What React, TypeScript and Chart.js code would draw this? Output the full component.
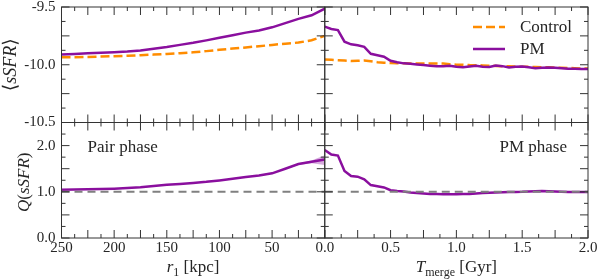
import React, { useEffect, useRef } from 'react';
import { Chart, registerables } from 'chart.js';
Chart.register(...registerables);

// ---------- data ----------
const rPair = [250, 237.5, 225, 212.5, 200, 187.5, 175, 162.5, 150, 137.5, 125, 112.5, 100, 87.5, 75, 62.5, 50, 37.5, 25, 12.5, 0];
const pmSsfrPair = [-9.911, -9.906, -9.901, -9.896, -9.891, -9.885, -9.876, -9.861, -9.846, -9.828, -9.81, -9.789, -9.767, -9.745, -9.722, -9.703, -9.676, -9.64, -9.603, -9.572, -9.515];
const ctrlSsfrPair = [-9.935, -9.934, -9.932, -9.929, -9.926, -9.922, -9.917, -9.912, -9.906, -9.9, -9.892, -9.882, -9.87, -9.86, -9.85, -9.84, -9.828, -9.818, -9.808, -9.788, -9.75];
const qPair = [1.047, 1.05, 1.055, 1.06, 1.068, 1.082, 1.1, 1.125, 1.15, 1.17, 1.19, 1.215, 1.247, 1.283, 1.32, 1.355, 1.4, 1.5, 1.6, 1.65, 1.7];
const bandR = [37.5, 25, 12.5, 0];
const qPairLow = [1.49, 1.58, 1.62, 1.58];
const qPairHigh = [1.51, 1.62, 1.68, 1.79];

const tMerge = [0, 0.05, 0.1, 0.15, 0.2, 0.25, 0.3, 0.35, 0.4, 0.45, 0.5, 0.55, 0.6, 0.65, 0.7, 0.75, 0.8, 0.85, 0.9, 0.95, 1.0, 1.05, 1.1, 1.15, 1.2, 1.25, 1.3, 1.35, 1.4, 1.45, 1.5, 1.55, 1.6, 1.65, 1.7, 1.75, 1.8, 1.85, 1.9, 1.95, 2.0];
const pmSsfrPost = [-9.67, -9.69, -9.7, -9.8, -9.823, -9.832, -9.845, -9.905, -9.918, -9.93, -9.965, -9.978, -9.988, -9.992, -9.997, -10.003, -10.008, -10.013, -10.012, -10.008, -10.018, -10.022, -10.015, -10.009, -10.018, -10.02, -10.006, -10.012, -10.023, -10.018, -10.015, -10.022, -10.03, -10.026, -10.023, -10.025, -10.03, -10.035, -10.035, -10.036, -10.036];
const ctrlSsfrPost = [-9.955, -9.957, -9.96, -9.964, -9.968, -9.966, -9.963, -9.97, -9.978, -9.982, -9.985, -9.987, -9.988, -9.989, -9.99, -9.99, -9.99, -9.989, -9.99, -9.995, -9.999, -10.0, -10.003, -10.004, -10.006, -10.008, -10.01, -10.012, -10.014, -10.016, -10.017, -10.018, -10.02, -10.021, -10.022, -10.024, -10.026, -10.028, -10.03, -10.032, -10.033];
const qPost = [1.907, 1.806, 1.785, 1.45, 1.34, 1.328, 1.27, 1.145, 1.12, 1.095, 1.035, 1.015, 1.008, 0.985, 0.972, 0.962, 0.955, 0.95, 0.948, 0.946, 0.946, 0.95, 0.955, 0.962, 0.972, 0.978, 0.984, 0.99, 0.994, 0.997, 1.0, 1.008, 1.014, 1.018, 1.012, 1.005, 1.0, 0.998, 0.996, 0.996, 0.996];

const qRef = 1;
const seriesNames = ['Control', 'PM'];
const rTickLabels = [250, 200, 150, 100, 50];
const tTickLabels = [0, 0.5, 1.0, 1.5, 2.0];
const ssfrTickLabels = [-9.5, -10.0, -10.5];
const qTickLabels = [0, 1.0, 2.0];
const rMajor = [250, 225, 200, 175, 150, 125, 100, 75, 50, 25, 0];
const tMajor = [0, 0.25, 0.5, 0.75, 1.0, 1.25, 1.5, 1.75, 2.0];
const ssfrMajor = [-9.5, -9.75, -10.0, -10.25, -10.5];
const qMajor = [0, 0.5, 1.0, 1.5, 2.0, 2.5];

const PURPLE = '#8a0f9e';
const ORANGE = '#ff8c00';
const GREY = '#808080';
const INK = '#262626';
const SERIF = "'Liberation Serif', 'DejaVu Serif', serif";

const pts = (xs: number[], ys: number[]) => xs.map((x, i) => ({ x, y: ys[i] }));

type Piece = { t: string; font: string; dy?: number };
function drawRich(ctx: CanvasRenderingContext2D, pieces: Piece[], cx: number, cy: number, rot: number) {
  ctx.save();
  ctx.translate(cx, cy);
  ctx.rotate(rot);
  ctx.textAlign = 'left';
  ctx.textBaseline = 'alphabetic';
  ctx.fillStyle = INK;
  let total = 0;
  const w = pieces.map((p) => {
    ctx.font = p.font;
    const m = ctx.measureText(p.t).width;
    total += m;
    return m;
  });
  let x = -total / 2;
  pieces.forEach((p, i) => {
    ctx.font = p.font;
    ctx.fillText(p.t, x, p.dy || 0);
    x += w[i];
  });
  ctx.restore();
}

const it = (s: number) => `italic ${s}px ${SERIF}`;
const rm = (s: number) => `${s}px ${SERIF}`;

const framePlugin = {
  id: 'framePlugin',
  afterDraw(chart: any) {
    const ctx: CanvasRenderingContext2D = chart.ctx;
    const s = chart.scales;
    const panels = [
      [s.xL, s.yT, rMajor, ssfrMajor],
      [s.xR, s.yT, tMajor, ssfrMajor],
      [s.xL, s.yB, rMajor, qMajor],
      [s.xR, s.yB, tMajor, qMajor],
    ];
    ctx.save();
    ctx.strokeStyle = '#333';
    ctx.lineWidth = 1;
    for (const [xs, ys, xm, ym] of panels as any) {
      const L = xs.left, R = xs.right, T = ys.top, B = ys.bottom;
      ctx.strokeRect(L, T, R - L, B - T);
      ctx.beginPath();
      xm.forEach((v: number, i: number) => {
        const list = [{ v, len: 8 }];
        if (i < xm.length - 1) list.push({ v: (v + xm[i + 1]) / 2, len: 4 });
        for (const tk of list) {
          const px = xs.getPixelForValue(tk.v);
          ctx.moveTo(px, B); ctx.lineTo(px, B - tk.len);
          ctx.moveTo(px, T); ctx.lineTo(px, T + tk.len);
        }
      });
      ym.forEach((v: number, i: number) => {
        const list = [{ v, len: 8 }];
        if (i < ym.length - 1) list.push({ v: (v + ym[i + 1]) / 2, len: 4 });
        for (const tk of list) {
          const py = ys.getPixelForValue(tk.v);
          ctx.moveTo(L, py); ctx.lineTo(L + tk.len, py);
          ctx.moveTo(R, py); ctx.lineTo(R - tk.len, py);
        }
      });
      ctx.stroke();
    }
    ctx.restore();

    // axis titles
    drawRich(ctx, [{ t: '⟨', font: rm(19) }, { t: 'sSFR', font: it(18) }, { t: '⟩', font: rm(19) }], 16, (s.yT.top + s.yT.bottom) / 2, -Math.PI / 2);
    drawRich(ctx, [{ t: 'Q', font: it(17) }, { t: '(', font: rm(17) }, { t: 'sSFR', font: it(17) }, { t: ')', font: rm(17) }], 29, (s.yB.top + s.yB.bottom) / 2 + 2, -Math.PI / 2);
    drawRich(ctx, [{ t: 'r', font: it(17) }, { t: '1', font: rm(12), dy: 4 }, { t: ' [kpc]', font: rm(17) }], (s.xL.left + s.xL.right) / 2, 272, 0);
    drawRich(ctx, [{ t: 'T', font: it(17) }, { t: 'merge', font: rm(12), dy: 4 }, { t: ' [Gyr]', font: rm(17) }], (s.xR.left + s.xR.right) / 2, 272, 0);

    // annotations
    ctx.save();
    ctx.fillStyle = INK;
    ctx.font = rm(17);
    ctx.textBaseline = 'middle';
    ctx.textAlign = 'left';
    ctx.fillText('Pair phase', s.xL.left + 26, s.yB.top + 25);
    ctx.textAlign = 'right';
    ctx.fillText('PM phase', s.xR.right - 21, s.yB.top + 25);

    // legend
    const lx0 = s.xR.right - 115, lx1 = s.xR.right - 83, tx = s.xR.right - 68;
    const rows = [
      { name: seriesNames[0], color: ORANGE, dash: [9, 4], y: s.yT.top + 20 },
      { name: seriesNames[1], color: PURPLE, dash: [], y: s.yT.top + 42 },
    ];
    for (const r of rows) {
      ctx.beginPath();
      ctx.strokeStyle = r.color;
      ctx.lineWidth = 2.5;
      ctx.setLineDash(r.dash);
      ctx.moveTo(lx0, r.y);
      ctx.lineTo(lx1, r.y);
      ctx.stroke();
      ctx.setLineDash([]);
      ctx.textAlign = 'left';
      ctx.fillText(r.name, tx, r.y + 1);
    }
    ctx.restore();
  },
};

const zeroPad = (sc: any) => { sc.paddingTop = 0; sc.paddingBottom = 0; sc.paddingLeft = 0; sc.paddingRight = 0; };

export default function App() {
  const ref = useRef<HTMLCanvasElement>(null);
  useEffect(() => {
    const line = (data: any[], xID: string, yID: string, color: string, extra: any = {}) => ({
      data, xAxisID: xID, yAxisID: yID, borderColor: color, backgroundColor: color,
      borderWidth: 2.5, pointRadius: 0, tension: 0, fill: false, ...extra,
    });
    const tickFont = { family: SERIF, size: 15 };
    const xTicks = (fmt: (v: number) => string) => ({
      autoSkip: false, maxRotation: 0, padding: 1, color: INK, font: tickFont,
      callback: (v: any) => fmt(Number(v)),
    });
    const chart = new Chart(ref.current!, {
      type: 'line',
      data: {
        datasets: [
          line([{ x: 250, y: qRef }, { x: 0, y: qRef }], 'xL', 'yB', GREY, { borderWidth: 2, borderDash: [8, 5] }),
          line([{ x: 0, y: qRef }, { x: 2, y: qRef }], 'xR', 'yB', GREY, { borderWidth: 2, borderDash: [8, 5] }),
          line(pts(rPair, pmSsfrPair), 'xL', 'yT', PURPLE),
          line(pts(tMerge, pmSsfrPost), 'xR', 'yT', PURPLE),
          line(pts(rPair, qPair), 'xL', 'yB', PURPLE),
          line(pts(tMerge, qPost), 'xR', 'yB', PURPLE),
          line(pts(rPair, ctrlSsfrPair), 'xL', 'yT', ORANGE, { borderDash: [9, 4] }),
          line(pts(tMerge, ctrlSsfrPost), 'xR', 'yT', ORANGE, { borderDash: [9, 4] }),
          line(pts(bandR, qPairLow), 'xL', 'yB', 'rgba(138,15,158,0)', { borderWidth: 0 }),
          line(pts(bandR, qPairHigh), 'xL', 'yB', 'rgba(138,15,158,0)', { borderWidth: 0, fill: '-1', backgroundColor: 'rgba(138,15,158,0.35)' }),
        ],
      },
      options: {
        animation: false,
        responsive: false,
        devicePixelRatio: 1,
        layout: { padding: { left: 0, top: 7, right: 10, bottom: 0 } },
        plugins: { legend: { display: false }, tooltip: { enabled: false } },
        scales: {
          xL: {
            type: 'linear', position: 'bottom', stack: 'x', stackWeight: 1, weight: 0,
            min: 0, max: 250, reverse: true,
            grid: { display: false, drawTicks: false }, border: { display: false },
            ticks: xTicks((v) => String(v)),
            afterBuildTicks: (sc: any) => { sc.ticks = rTickLabels.map((v) => ({ value: v })); },
            afterFit: (sc: any) => { sc.height = 41; zeroPad(sc); },
          },
          xR: {
            type: 'linear', position: 'bottom', stack: 'x', stackWeight: 1, weight: 1,
            min: 0, max: 2,
            grid: { display: false, drawTicks: false }, border: { display: false },
            ticks: xTicks((v) => v.toFixed(1)),
            afterBuildTicks: (sc: any) => { sc.ticks = tTickLabels.map((v) => ({ value: v })); },
            afterFit: (sc: any) => { sc.height = 41; zeroPad(sc); },
          },
          yT: {
            type: 'linear', position: 'left', stack: 'y', stackWeight: 1, weight: 1,
            min: -10.5, max: -9.5,
            grid: { display: false, drawTicks: false }, border: { display: false },
            ticks: { autoSkip: false, padding: 6, color: INK, font: tickFont, callback: (v: any) => Number(v).toFixed(1) },
            afterBuildTicks: (sc: any) => { sc.ticks = ssfrTickLabels.map((v) => ({ value: v })); },
            afterFit: (sc: any) => { sc.width = 61.5; zeroPad(sc); },
          },
          yB: {
            type: 'linear', position: 'left', stack: 'y', stackWeight: 1, weight: 0,
            min: 0, max: 2.5,
            grid: { display: false, drawTicks: false }, border: { display: false },
            ticks: { autoSkip: false, padding: 6, color: INK, font: tickFont, callback: (v: any) => Number(v).toFixed(1) },
            afterBuildTicks: (sc: any) => { sc.ticks = qTickLabels.map((v) => ({ value: v })); },
            afterFit: (sc: any) => { sc.width = 61.5; zeroPad(sc); },
          },
        },
      } as any,
      plugins: [framePlugin],
    });
    return () => chart.destroy();
  }, []);
  return (
    <div style={{ position: 'absolute', left: 0, top: 0, width: 598, height: 279, background: '#fff' }}>
      <canvas ref={ref} width={598} height={279} style={{ display: 'block', width: 598, height: 279 }} />
    </div>
  );
}
